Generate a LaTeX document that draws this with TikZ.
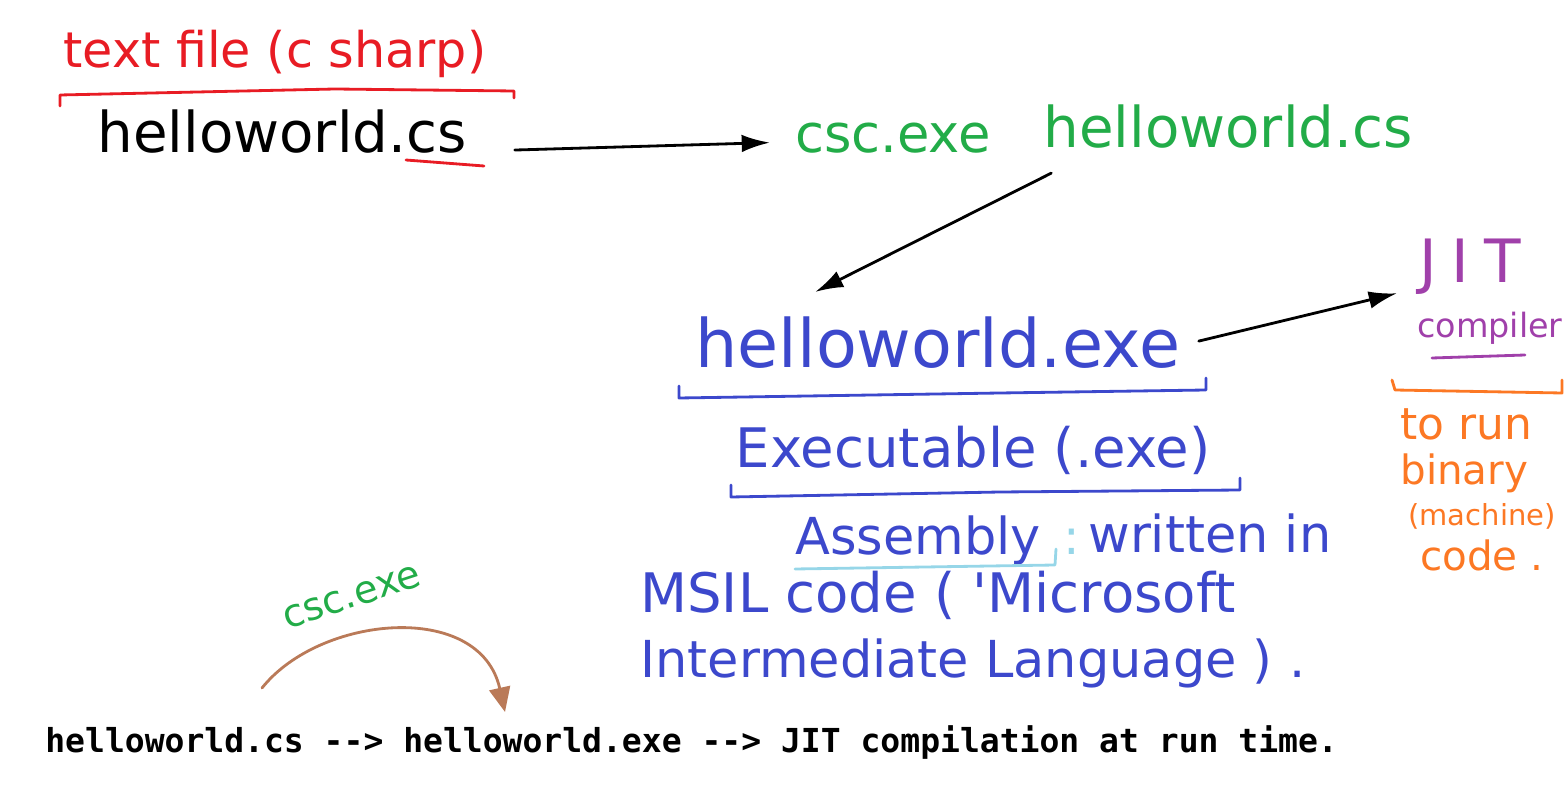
\documentclass[tikz,border=0pt]{standalone}
\usepackage{fontspec}
\setmonofont{DejaVu Sans Mono}
\newfontfamily\handfont{DejaVu Sans}
\usetikzlibrary{arrows.meta,positioning}
\usetikzlibrary{calc}

\definecolor{inkred}{RGB}{232,28,36}
\definecolor{inkgreen}{RGB}{34,172,72}
\definecolor{inkblue}{RGB}{60,72,204}
\definecolor{inkpurple}{RGB}{160,64,170}
\definecolor{inkorange}{RGB}{252,120,36}
\definecolor{inkbrown}{RGB}{186,122,88}
\definecolor{inklight}{RGB}{150,214,232}

\newcommand\handsz[1]{\handfont\fontsize{#1}{#1}\selectfont}

\begin{document}
\begin{tikzpicture}[
    x=0.02cm, y=-0.02cm,
    >=Latex,
    txt/.style={inner sep=0pt, anchor=base},
    txtl/.style={inner sep=0pt, anchor=base west},
    pen/.style={line width=1.6pt, line cap=round, line join=round},
    map/.style={pen,-{Latex[length=16pt,width=10pt]}},
]
\useasboundingbox (0,0) rectangle (1566,790);

% =====================================================
% source file
% =====================================================

\node[txt,inkred,font=\handsz{28}] (textfile) at (275,68) {text file (c sharp)};
\draw[pen,inkred] (60,106) -- (60,95) -- (335,89) -- (514,91) -- (514,98);

\node[txt,font=\handsz{32}] (src) at (282,153) {helloworld.cs};
\draw[pen,inkred] (406,160) -- (484,166);

\node[txt,inkgreen,font=\handsz{30}] (csc) at (893,153) {csc.exe};
\node[txt,inkgreen,font=\handsz{32}] (cmdfile) at (1228,148) {helloworld.cs};

\draw[map] ($(src.east)+(48,18)$) -- ($(csc.west)+(-25,4)$);

% =====================================================
% executable
% =====================================================

\node[txt,inkblue,font=\handsz{38}] (exe) at (938,368) {helloworld.exe};
\draw[pen,inkblue] (679,386) -- (679,398) -- (1000,393) -- (1206,390) -- (1206,378);

\draw[map] ($(cmdfile.south west)+(8,24)$) -- ($(exe.north west)+(120,-25)$);

\node[txt,inkblue,font=\handsz{31}] (exectbl) at (973,468) {Executable (.exe)};
\draw[pen,inkblue] (731,485) -- (731,497) -- (1000,492) -- (1240,490) -- (1240,478);

\node[txtl,inkblue,font=\handsz{29}] (assembly) at (795,555) {Assembly};
\draw[pen,inklight] (795,569) -- (1055,565) -- (1056,549);
\node[txt,inklight,font=\handsz{28}] (colon) at (1072,555) {:};
\node[txtl,inkblue,font=\handsz{29}] (written) at (1088,553) {written in};
\node[txtl,inkblue,font=\handsz{31}] (msil) at (640,612) {MSIL code ( 'Microsoft};
\node[txtl,inkblue,font=\handsz{29}] (interm) at (640,677) {Intermediate Language ) .};

% =====================================================
% JIT
% =====================================================

\node[txt,inkpurple,font={\handsz{34}\addfontfeature{LetterSpace=25}}] (jit) at (1470,283) {JIT};
\node[txt,inkpurple,font=\handsz{19}] (compiler) at (1490,338) {compiler};
\draw[pen,inkpurple] (1432,358) -- (1525,355);

\draw[map] ($(exe.east)+(18,-2)$) -- ($(jit.south west)+(-22,-2)$);

\draw[pen,inkorange] (1392,380) -- (1395,390) -- (1562,393) -- (1562,380);
\node[txtl,inkorange,font=\handsz{25}] (torun) at (1400,440) {to run};
\node[txtl,inkorange,font=\handsz{23}] (binary) at (1400,485) {binary};
\node[txtl,inkorange,font=\handsz{16.5}] (machine) at (1408,525) {(machine)};
\node[txtl,inkorange,font=\handsz{23}] (code) at (1420,570) {code .};

% =====================================================
% summary
% =====================================================

\node[inkgreen,font=\handsz{22},rotate=18,inner sep=0pt] (cscb) at (352,597) {csc.exe};

\coordinate (arcfrom) at (262,688);
\coordinate (arcto) at (505,712);
\draw[pen,inkbrown,-{Triangle[length=14pt,width=12pt]}]
    (arcfrom) .. controls (320,615) and (480,600) .. (arcto);

\node[txtl,font=\fontsize{18.8}{22}\selectfont\ttfamily\bfseries] (summary) at (45,752)
    {helloworld.cs --> helloworld.exe --> JIT compilation at run time.};

\end{tikzpicture}
\end{document}
